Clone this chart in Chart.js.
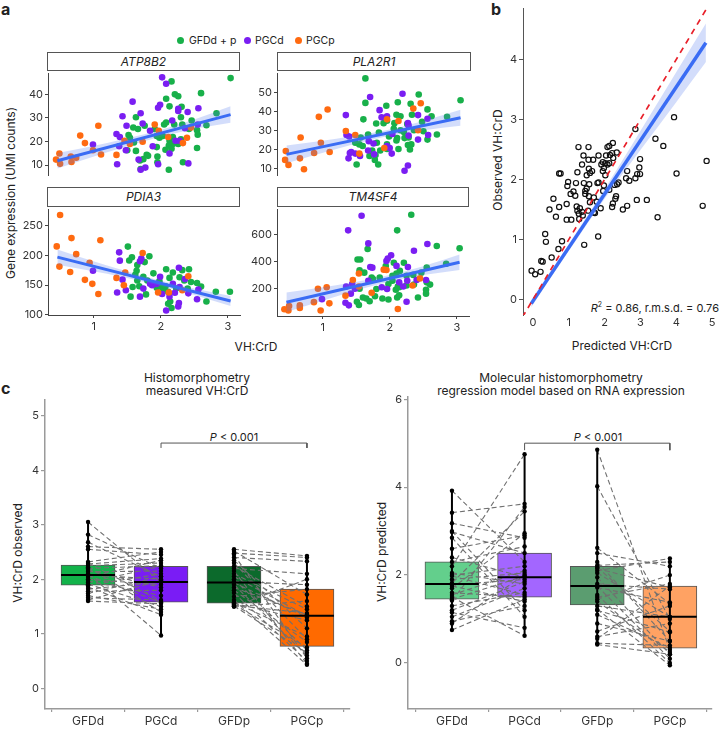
<!DOCTYPE html>
<html><head><meta charset="utf-8">
<script src="https://cdn.jsdelivr.net/npm/chart.js@4.4.1/dist/chart.umd.min.js"></script>
<style>
body{margin:0;background:#fff;}
#root{position:relative;width:720px;height:730px;overflow:hidden;font-family:Inter,'Open Sans','DejaVu Sans',sans-serif;color:#222;}
.t{position:absolute;white-space:nowrap;}
.ctr{transform:translate(-50%,-50%);}
.strip{position:absolute;box-sizing:border-box;border:1px solid #555;background:#fff;text-align:center;font-style:italic;font-size:12px;color:#222;}
.rot{position:absolute;white-space:nowrap;transform:translate(-50%,-50%) rotate(-90deg);font-size:12px;}
.dot{position:absolute;width:7px;height:7px;border-radius:50%;}
canvas{position:absolute;}
</style></head>
<body><div id="root">
<div class="t" style="left:1px;top:-1px;font-weight:700;font-size:16px">a</div>
<div class="t" style="left:491px;top:-1px;font-weight:700;font-size:16px">b</div>
<div class="t" style="left:1px;top:378px;font-weight:700;font-size:16px">c</div>

<span class="dot" style="left:177px;top:36.5px;background:#18b04a"></span>
<div class="t" style="left:189px;top:33.5px;font-size:10.5px">GFDd + p</div>
<span class="dot" style="left:243.5px;top:36.5px;background:#7a1ef2"></span>
<div class="t" style="left:255px;top:33.5px;font-size:10.5px">PGCd</div>
<span class="dot" style="left:294.5px;top:36.5px;background:#ff6a10"></span>
<div class="t" style="left:306px;top:33.5px;font-size:10.5px">PGCp</div>

<div class="strip" style="left:47px;top:52px;width:193px;height:19px;line-height:17px">ATP8B2</div>
<div class="strip" style="left:277px;top:52px;width:194px;height:19px;line-height:17px">PLA2R1</div>
<div class="strip" style="left:47px;top:187px;width:193px;height:20px;line-height:18px">PDIA3</div>
<div class="strip" style="left:277px;top:187px;width:192px;height:20px;line-height:18px">TM4SF4</div>

<div class="rot" style="left:10px;top:193px">Gene expression (UMI counts)</div>
<div class="t ctr" style="left:256px;top:346px;font-size:12px">VH:CrD</div>

<div class="rot" style="left:497px;top:160px">Observed VH:CrD</div>
<div class="t ctr" style="left:622px;top:345px;font-size:12px">Predicted VH:CrD</div>
<div class="t" style="right:1px;top:300px;font-size:11px"><i>R</i><span style="font-size:7px;vertical-align:5px">2</span> = 0.86, r.m.s.d. = 0.76</div>

<div class="t ctr" style="left:197px;top:384px;font-size:12px;line-height:13px;text-align:center">Histomorphometry<br>measured VH:CrD</div>
<div class="t ctr" style="left:561px;top:384px;font-size:12px;line-height:13px;text-align:center">Molecular histomorphometry<br>regression model based on RNA expression</div>
<div class="rot" style="left:17px;top:553px">VH:CrD observed</div>
<div class="rot" style="left:381px;top:552px">VH:CrD predicted</div>
<div class="t ctr" style="left:234px;top:437px;font-size:11px"><i>P</i> &lt; 0.001</div>
<div class="t ctr" style="left:598px;top:437px;font-size:11px"><i>P</i> &lt; 0.001</div>
</div>
<script>
// ---------------- DATA ----------------
const GROUP_LABELS = ['GFDd', 'PGCd', 'GFDp', 'PGCp'];

// Panel a: ATP8B2
const ATP8B2_GFD = [[3.04,46.9],[2.16,45.5],[2.60,40.5],[2.21,40.0],[2.26,39.2],[2.08,38.1],[2.13,34.9],[2.31,34.7],[2.83,32.0],[1.63,30.3],[2.30,30.3],[2.46,28.9],[2.68,26.9],[2.20,27.2],[2.05,27.2],[2.08,28.0],[1.59,25.9],[1.66,25.3],[1.76,26.7],[1.91,25.3],[2.54,24.8],[2.42,25.3],[2.55,22.9],[1.52,22.7],[1.54,21.6],[1.94,22.3],[1.98,21.6],[2.03,22.3],[2.18,21.9],[2.30,20.9],[1.60,19.6],[2.13,20.3],[2.26,18.9],[2.12,18.3],[1.94,17.6],[2.07,16.5],[1.50,16.3],[1.63,16.0],[2.16,16.9],[2.54,17.2],[1.79,14.3],[1.81,13.9],[1.74,12.5],[1.95,13.6],[1.95,11.2],[1.69,11.9],[2.33,11.2],[1.70,8.3],[2.12,8.0],[2.32,27.2],[2.18,18.9]];
const ATP8B2_PGCd = [[2.02,47.2],[2.08,44.5],[1.58,36.9],[1.99,35.6],[1.96,34.3],[2.26,33.9],[2.26,32.9],[2.56,34.1],[2.40,32.5],[2.17,28.9],[1.43,30.7],[1.70,32.0],[1.49,26.7],[1.73,27.6],[1.34,23.2],[1.39,21.9],[1.84,24.5],[0.99,18.7],[1.38,18.0],[1.48,16.3],[1.88,18.0],[2.13,14.9],[2.22,20.3],[2.28,20.3],[1.67,12.3],[1.35,10.3],[1.70,8.0],[1.77,8.9],[1.96,10.3],[2.41,10.7],[2.55,27.2],[2.36,25.6]];
const ATP8B2_PGCp = [[0.44,12.3],[0.49,14.9],[0.50,10.5],[0.67,11.3],[0.74,13.1],[0.66,13.6],[0.80,22.5],[0.87,19.3],[0.99,16.3],[1.07,26.7],[1.11,14.5],[1.34,14.3],[1.46,20.3],[1.54,18.9],[1.73,19.9],[1.91,27.2],[1.97,24.5],[2.11,21.9],[2.33,19.3],[2.39,21.6],[2.45,25.9]];
const ATP8B2_FIT = [[0.46,11.8],[3.04,31.4]];
const ATP8B2_BAND = [[0.46,8.5,15.1],[1.2,15.4,19.4],[1.9,21.3,24.1],[2.5,25.3,29.3],[3.04,27.9,34.9]];
const ATP8B2_TICKS = [10,20,30,40];

// Panel a: PLA2R1
const PLA2R1_GFD = [[1.63,57.3],[3.04,45.9],[2.42,48.9],[2.11,44.8],[2.30,44.0],[1.63,44.5],[1.94,43.0],[2.55,41.1],[1.60,35.9],[2.09,38.3],[2.15,37.5],[2.32,38.3],[2.61,37.5],[2.84,37.2],[1.95,35.2],[2.06,33.9],[1.79,33.7],[1.90,33.9],[2.25,33.4],[2.47,34.6],[1.67,28.0],[1.83,29.0],[2.05,31.0],[2.15,30.2],[2.20,29.3],[2.35,30.2],[2.49,29.7],[2.69,28.0],[1.98,26.9],[2.10,26.1],[2.21,26.1],[2.27,26.4],[1.56,26.4],[1.48,23.7],[1.54,22.8],[1.59,22.0],[1.80,23.7],[1.95,22.8],[2.09,24.8],[2.55,25.3],[2.26,22.5],[2.31,22.8],[1.73,19.6],[1.78,17.2],[1.85,19.6],[1.69,16.7],[1.95,20.4],[2.12,20.4],[2.29,20.1],[1.50,12.3],[1.82,12.3],[1.77,14.7]];
const PLA2R1_PGCd = [[2.18,49.3],[1.70,47.6],[1.84,40.7],[1.95,37.5],[1.34,38.1],[1.87,37.0],[2.41,38.1],[2.26,33.9],[2.55,36.2],[1.35,27.7],[1.39,26.9],[1.68,24.5],[1.75,23.3],[1.95,22.0],[1.99,20.9],[1.42,18.8],[1.48,18.0],[1.40,18.3],[1.55,16.7],[1.67,19.6],[1.76,17.6],[1.38,15.5],[2.02,18.0],[2.27,27.4],[2.41,25.3],[2.56,27.7],[2.21,9.0],[2.26,11.8],[2.03,28.2],[2.27,32.6]];
const PLA2R1_PGCp = [[0.45,19.3],[0.44,14.7],[0.49,12.1],[0.66,15.5],[0.67,26.4],[0.72,9.8],[0.87,18.3],[0.94,37.2],[0.97,23.7],[1.07,41.0],[1.10,18.8],[1.34,29.8],[1.48,27.7],[1.54,18.0],[1.91,20.9],[1.95,35.9],[2.12,35.0],[2.34,41.5],[2.45,44.3],[2.41,30.2]];
const PLA2R1_FIT = [[0.46,17.6],[3.04,36.7]];
const PLA2R1_BAND = [[0.46,13.0,22.2],[1.2,20.4,25.8],[1.9,26.7,29.9],[2.5,30.2,35.2],[3.04,32.5,40.9]];
const PLA2R1_TICKS = [10,20,30,40,50];

// Panel a: PDIA3
const PDIA3_GFD = [[1.51,214.7],[1.57,196.7],[1.53,191.3],[1.65,183.7],[1.83,198.4],[1.76,188.6],[1.62,167.4],[1.64,174],[1.58,146.7],[1.55,130.4],[1.65,157.6],[1.68,148],[1.74,164],[1.78,134.2],[1.80,157.6],[1.89,169.6],[1.94,145.6],[1.98,156.5],[2.01,148],[2.03,142.4],[2.08,176.6],[2.13,162],[2.18,171],[2.07,148],[2.11,138.6],[2.14,122.3],[2.16,111.4],[2.11,118.5],[2.23,144],[2.28,163],[2.32,175],[2.35,157.6],[2.40,144],[2.45,155],[2.54,153.3],[2.42,176.6],[2.68,122.3],[2.82,138.6],[3.03,138.6],[2.60,147.3]];
const PDIA3_PGCd = [[1.38,205],[1.39,191],[1.35,137.5],[1.48,141.3],[1.43,159],[0.99,174],[1.69,190],[1.71,194.5],[1.74,144],[1.69,130.4],[1.84,152],[1.87,149.5],[1.99,164],[2.02,134.8],[2.08,107],[2.13,130.4],[2.18,152],[2.27,179],[2.27,119.5],[2.26,114],[2.21,137],[2.36,160],[2.41,136],[2.56,142.4],[2.54,126],[1.94,152],[2.28,146.7]];
const PDIA3_PGCp = [[0.50,268],[0.45,215],[0.49,181],[0.67,229],[0.65,172],[0.74,202],[0.94,187.5],[0.87,158.7],[0.98,152],[1.10,225.5],[1.07,134.8],[1.34,162],[1.47,171],[1.45,149.5],[1.73,204],[1.96,137.5],[2.12,137.5],[2.41,164.7],[2.32,141.3]];
const PDIA3_FIT = [[0.46,197],[3.04,123]];
const PDIA3_BAND = [[0.46,184,210],[1.2,168.8,182.8],[1.9,151.2,160.2],[2.5,133,144],[3.04,114.5,131.5]];
const PDIA3_TICKS = [100,150,200,250];

// Panel a: TM4SF4
const TM4SF4_GFD = [[2.32,750],[2.11,634],[1.67,496],[2.70,518],[3.04,501],[1.52,417],[1.56,417],[2.06,393],[2.21,393],[2.84,386],[1.94,369],[2.55,357],[1.55,337],[1.62,320],[1.73,284],[1.75,272],[1.85,284],[2.04,296],[2.10,313],[2.15,333],[2.25,296],[2.35,303],[2.47,320],[1.55,200],[1.80,198],[2.04,260],[2.09,193],[2.14,212],[2.25,224],[2.36,231],[2.55,248],[2.60,231],[2.54,193],[2.54,164],[1.51,104],[1.54,80],[1.60,135],[1.65,128],[1.70,108],[1.78,145],[1.89,128],[1.98,120],[2.11,135],[2.14,152],[2.42,135],[2.12,217],[1.98,236]];
const TM4SF4_PGCd = [[1.58,742],[1.38,634],[1.68,537],[2.56,533],[2.36,483],[2.02,449],[1.97,425],[1.95,406],[1.71,362],[1.74,357],[2.10,370],[2.27,362],[1.35,217],[1.44,236],[1.48,200],[1.68,260],[1.88,212],[1.96,198],[2.14,248],[2.20,217],[2.26,260],[2.40,265],[2.54,265],[1.34,96],[1.39,77],[1.42,164],[0.99,123],[2.25,104]];
const TM4SF4_PGCp = [[0.43,48],[0.50,72],[0.49,39],[0.66,77],[0.66,58],[0.87,101],[0.93,200],[0.97,39],[1.06,212],[1.10,92],[1.34,149],[1.45,265],[1.54,313],[1.54,217],[1.73,171],[1.91,342],[1.95,340],[2.12,50],[2.34,224],[2.45,277]];
const TM4SF4_FIT = [[0.46,100],[3.04,397]];
const TM4SF4_BAND = [[0.46,28,172],[1.2,143,227],[1.9,241,291],[2.5,302,368],[3.04,340,454]];
const TM4SF4_TICKS = [200,400,600];
const VH_TICKS = [1,2,3];

// Panel b
const B_POINTS = [[3.94,3.04],[3.42,2.68],[3.64,2.56],[2.86,2.84],[4.85,2.31],[4.01,2.10],[4.74,1.56],[3.48,1.37],[3.18,1.66],[2.90,1.66],[2.99,2.34],[2.97,2.20],[2.99,2.09],[2.91,2.09],[2.86,2.02],[2.63,2.14],[2.60,2.02],[2.69,1.98],[2.39,1.95],[2.35,1.92],[2.28,1.91],[2.32,1.72],[2.30,1.68],[2.63,1.56],[2.51,1.50],[2.23,1.60],[2.21,1.54],[1.89,1.52],[1.73,1.44],[2.13,1.83],[1.98,1.90],[2.23,2.61],[2.13,2.56],[2.08,2.54],[2.21,2.44],[2.34,2.45],[2.04,2.40],[2.15,2.41],[2.24,2.36],[1.83,2.40],[1.55,2.54],[1.27,2.54],[1.41,2.40],[1.55,2.33],[1.68,2.33],[1.37,2.25],[1.56,2.18],[1.65,2.14],[1.59,2.11],[1.50,2.07],[1.95,2.29],[2.02,2.27],[2.08,2.25],[1.91,2.25],[1.98,2.19],[2.13,2.27],[1.95,2.14],[2.02,2.07],[1.24,2.12],[0.73,2.10],[0.77,2.10],[0.98,1.96],[1.20,1.94],[1.42,1.94],[1.57,1.92],[1.80,1.94],[1.83,1.95],[0.96,1.89],[1.13,1.80],[1.05,1.76],[1.18,1.73],[1.46,1.81],[1.50,1.85],[1.46,1.76],[1.56,1.72],[1.70,1.70],[1.96,1.81],[1.59,1.62],[1.78,1.63],[0.57,1.68],[0.94,1.59],[0.73,1.54],[0.46,1.50],[1.22,1.55],[1.31,1.52],[1.24,1.48],[1.37,1.46],[1.28,1.43],[1.39,1.40],[1.54,1.48],[1.70,1.45],[0.64,1.38],[0.94,1.33],[1.07,1.33],[1.29,1.34],[0.34,1.09],[0.36,0.96],[0.81,0.97],[1.43,0.91],[1.82,1.05],[0.71,0.84],[0.52,0.70],[0.23,0.64],[0.27,0.63],[-0.04,0.48],[0.06,0.42],[0.21,0.46]];
const B_FIT = [[-0.05,-0.07],[4.83,4.28]];
const B_BAND = [[-0.05,-0.13,-0.01],[1,0.81,0.92],[2,1.68,1.84],[3,2.49,2.81],[4,3.29,3.79],[4.83,3.96,4.60]];
const B_IDENTITY = [[-0.3,-0.3],[4.9,4.9]];
const B_XTICKS = [0,1,2,3,4,5];
const B_YTICKS = [0,1,2,3,4];

// Panel c: observed (histomorphometry)
const OBS_GFDd = [3.05,2.82,2.68,2.6,2.55,2.32,2.3,2.28,2.25,2.22,2.2,2.17,2.14,2.1,2.08,2.07,2.04,2.0,1.97,1.94,1.91,1.89,1.86,1.82,1.78,1.74,1.7,1.66,1.62,1.6];
const OBS_PGCd = [1.95,2.2,2.05,2.55,2.45,2.5,1.6,2.38,2.3,1.4,2.25,1.85,2.15,0.97,2.0,1.58,2.35,1.9,1.7,2.24,1.5,2.1,1.35,1.95,1.8,2.05,1.45,1.62,1.98,1.55];
const OBS_GFDp = [2.55,2.52,2.48,2.45,2.4,2.35,2.3,2.24,2.2,2.15,2.1,2.05,2.0,1.96,1.94,1.9,1.85,1.8,1.75,1.68,1.62,1.58,1.56,1.54,1.52,1.51,1.5,1.5];
const OBS_PGCp = [2.43,1.72,2.4,0.55,2.33,1.1,0.9,1.5,2.1,0.45,1.45,1.33,0.7,1.9,1.3,0.6,1.35,0.85,0.5,1.82,0.43,0.95,1.25,0.75,1.38,0.65,2.0,1.6];
const OBS_Q1 = [1.89,1.58,1.56,0.77];
const OBS_MED = [2.08,1.95,1.94,1.33];
const OBS_Q3 = [2.26,2.24,2.24,1.82];
const OBS_BRACKET = [4.50,4.41];
const OBS_TICKS = [0,1,2,3,4,5];

// Panel c: predicted (molecular)
const PRED_GFDd = [3.92,3.42,3.18,3.0,2.98,2.85,2.6,2.4,2.3,2.2,2.05,2.0,1.98,1.9,1.82,1.78,1.75,1.7,1.6,1.55,1.5,1.45,1.42,1.3,1.2,1.15,1.05,0.95,0.9,0.75];
const PRED_PGCd = [2.3,3.62,2.85,1.2,2.5,1.05,2.9,1.95,2.65,4.75,1.8,2.2,1.55,2.05,3.45,1.9,1.4,2.95,1.5,2.1,0.62,1.98,3.55,1.6,1.85,0.8,1.7,1.3,2.0,1.45];
const PRED_GFDp = [4.85,4.02,2.62,2.5,2.3,2.22,2.18,2.15,2.1,2.05,1.95,1.8,1.75,1.72,1.55,1.5,1.45,1.4,1.3,1.22,1.2,1.1,0.9,0.72,0.6,0.55,0.45,0.42];
const PRED_PGCp = [0.3,1.0,1.35,2.2,0.5,2.3,0.72,1.72,2.38,1.05,0.2,1.68,0.1,1.38,0.0,1.8,2.0,0.25,1.05,-0.05,0.7,0.35,0.5,1.3,0.9,1.75,0.4,0.2];
const PRED_Q1 = [1.45,1.5,1.32,0.34];
const PRED_MED = [1.8,1.95,1.75,1.05];
const PRED_Q3 = [2.3,2.5,2.2,1.75];
const PRED_BRACKET = [5.0,4.84];
const PRED_TICKS = [0,2,4,6];

// ---------------- STYLE ----------------
const COL = {green:'#18b04a', purple:'#7a1ef2', orange:'#ff6a10', fit:'#3a6cf4', band:'rgba(80,120,240,0.25)', red:'#e8202a'};
const BOX_OBS = ['#12b34a','#7a1cf5','#0c6a2c','#ff6a00'];
const BOX_PRED = ['#63cf8c','#a366ff','#5b9d70','#ffa263'];

Chart.defaults.font.family = "Inter, 'Open Sans', 'DejaVu Sans', sans-serif";
Chart.defaults.font.size = 11;
Chart.defaults.color = '#333';

const root = document.getElementById('root');
function mkCanvas(area, pad){
  const c = document.createElement('canvas');
  const w = area[2]-area[0]+pad[0]+pad[2], h = area[3]-area[1]+pad[1]+pad[3];
  c.width = w; c.height = h;
  c.style.left = (area[0]-pad[0])+'px'; c.style.top = (area[1]-pad[1])+'px';
  c.style.width = w+'px'; c.style.height = h+'px';
  root.appendChild(c); return c;
}
const fixedTicks = arr => s => { s.ticks = arr.map(v => ({value:v})); };
function axisY(min,max,ticks,w,st){
  return {type:'linear', position:'left', min, max, afterBuildTicks: fixedTicks(ticks), afterFit: s => { s.width = w; },
    grid:{drawOnChartArea:false, drawTicks:true, tickLength:st.tl, color:st.c, lineWidth:st.lw||1},
    border:{display:true, color:st.c, width:st.bw},
    ticks:{padding:2, font:{size:st.fs}, color:'#333'}};
}
function axisX(min,max,ticks,h,st,labels){
  return {type:'linear', position:'bottom', min, max, offset:false, afterBuildTicks: fixedTicks(ticks), afterFit: s => { s.height = h; },
    grid:{drawOnChartArea:false, drawTicks: st.tl>0, tickLength: st.tl||0, color:st.c, lineWidth:st.lw||1},
    border:{display: st.border!==false, color:st.c, width:st.bw},
    ticks:{padding: st.pad, maxRotation:0, autoSkip:false, font:{size:st.fs}, color:'#333', callback: labels ? (v => labels[v]) : (v => v)}};
}
function make(area, pad, datasets, scales){
  const hiddenX = scales.x.display === false;
  return new Chart(mkCanvas(area,pad), {type:'scatter', data:{datasets},
    options:{responsive:false, animation:false, devicePixelRatio:1,
      layout:{autoPadding:false, padding:{left:0, top:pad[1], right:pad[2], bottom: hiddenX ? pad[3] : 0}},
      scales, plugins:{legend:{display:false}, tooltip:{enabled:false}}}});
}
const xy = arr => arr.map(p => ({x:p[0], y:p[1]}));
const pts = (arr, col, r, order) => ({type:'scatter', data: xy(arr), backgroundColor: col, borderColor: col, borderWidth:0, pointRadius:r, order});
const seg = (arr, col, w, order, dash) => ({type:'line', data: xy(arr), borderColor: col, borderWidth:w, borderDash: dash||[], pointRadius:0, fill:false, order});
const bandDS = (band, order) => [
  {type:'line', data: band.map(b => ({x:b[0], y:b[1]})), borderWidth:0, pointRadius:0, fill:false, cubicInterpolationMode:'monotone', order},
  {type:'line', data: band.map(b => ({x:b[0], y:b[2]})), borderWidth:0, pointRadius:0, fill:'-1', backgroundColor: COL.band, cubicInterpolationMode:'monotone', order}
];

// ---------------- PANEL a ----------------
const styA = {tl:3, c:'#444', bw:1, fs:11, pad:2};
const VH_MIN = 0.32, VH_MAX = 3.18;
function facet(area, gfd, pgcd, pgcp, fit, band, ymin, ymax, yt, showX){
  const ds = [pts(pgcp, COL.orange, 3.3, 6), pts(pgcd, COL.purple, 3.3, 6), pts(gfd, COL.green, 3.3, 6), ...bandDS(band, 3), seg(fit, COL.fit, 3, 1)];
  const scales = {y: axisY(ymin, ymax, yt, 30, styA),
    x: showX ? axisX(VH_MIN, VH_MAX, VH_TICKS, 20, styA) : {type:'linear', min:VH_MIN, max:VH_MAX, display:false}};
  make(area, [30, 6, 5, showX ? 20 : 4], ds, scales);
}
facet([48,71,240,180], ATP8B2_GFD, ATP8B2_PGCd, ATP8B2_PGCp, ATP8B2_FIT, ATP8B2_BAND, 5.6, 48.8, ATP8B2_TICKS, false);
facet([277,71,470,180], PLA2R1_GFD, PLA2R1_PGCd, PLA2R1_PGCp, PLA2R1_FIT, PLA2R1_BAND, 6.6, 59.8, PLA2R1_TICKS, false);
facet([48,207,240,315], PDIA3_GFD, PDIA3_PGCd, PDIA3_PGCp, PDIA3_FIT, PDIA3_BAND, 99.5, 277, PDIA3_TICKS, true);
facet([277,207,469,316], TM4SF4_GFD, TM4SF4_PGCd, TM4SF4_PGCp, TM4SF4_FIT, TM4SF4_BAND, -2, 788, TM4SF4_TICKS, true);

// ---------------- PANEL b ----------------
make([523,3,717,315], [33,3,3,22], [
  {type:'scatter', data: xy(B_POINTS), backgroundColor:'rgba(0,0,0,0)', borderColor:'#111', borderWidth:1.2, pointRadius:2.6, order:6},
  ...bandDS(B_BAND, 3),
  seg(B_FIT, COL.fit, 3.5, 2),
  seg(B_IDENTITY, COL.red, 1.7, 1, [6,5])
], {
  y: axisY(-0.26, 4.85, B_YTICKS, 33, {tl:4, c:'#555', bw:1, fs:11}),
  x: axisX(-0.28, 5.14, B_XTICKS, 22, {tl:0, c:'#555', bw:1, fs:11, pad:1, border:false})
});

// ---------------- PANEL c ----------------
function boxPanel(area, groups, q1, med, q3, colors, bracket, ymin, ymax, yt, xmin, xmax){
  const pairs = [];
  [[0,1],[2,3]].forEach(([a,b]) => groups[a].forEach((v,i) => { pairs.push({x:a,y:v},{x:b,y:groups[b][i]},{x:a+0.5,y:null}); }));
  const whisk = [], medians = [];
  groups.forEach((g,i) => {
    whisk.push({x:i,y:Math.min(...g)},{x:i,y:Math.max(...g)},{x:i+0.5,y:null});
    medians.push({x:i-0.37,y:med[i]},{x:i+0.37,y:med[i]},{x:i+0.5,y:null});
  });
  const dots = [];
  groups.forEach((g,i) => g.forEach(v => dots.push({x:i,y:v})));
  const ds = [
    {type:'bar', data: q1.map((v,i) => ({x:i, y:[v, q3[i]]})), backgroundColor: colors, borderColor:'#555', borderWidth:1, borderSkipped:false, barThickness:54, order:10},
    {type:'line', data: pairs, borderColor:'#707070', borderWidth:1.1, borderDash:[5,3], pointRadius:0, fill:false, spanGaps:false, order:6},
    {type:'line', data: whisk, borderColor:'#000', borderWidth:2, pointRadius:0, fill:false, spanGaps:false, order:4},
    {type:'scatter', data: dots, backgroundColor:'#000', borderWidth:0, pointRadius:2.2, order:3},
    {type:'line', data: medians, borderColor:'#000', borderWidth:2, pointRadius:0, fill:false, spanGaps:false, order:2},
    {type:'line', data: [{x:1,y:bracket[1]},{x:1,y:bracket[0]},{x:3,y:bracket[0]},{x:3,y:bracket[1]}], borderColor:'#555', borderWidth:1, pointRadius:0, fill:false, order:1}
  ];
  const st = {tl:4, c:'#9a9a9a', bw:1.5, lw:1.2, fs:11, pad:2};
  make(area, [45,10,8,21], ds, {
    y: axisY(ymin, ymax, yt, 45, st),
    x: axisX(xmin, xmax, [0,1,2,3], 21, {tl:3, c:'#9a9a9a', bw:1.5, lw:1.2, fs:12, pad:2}, GROUP_LABELS)
  });
}
boxPanel([45,400,350,709], [OBS_GFDd, OBS_PGCd, OBS_GFDp, OBS_PGCp], OBS_Q1, OBS_MED, OBS_Q3, BOX_OBS, OBS_BRACKET, -0.38, 5.29, OBS_TICKS, -0.59, 3.59);
boxPanel([408,397,712,709], [PRED_GFDd, PRED_PGCd, PRED_GFDp, PRED_PGCp], PRED_Q1, PRED_MED, PRED_Q3, BOX_PRED, PRED_BRACKET, -1.045, 6.05, PRED_TICKS, -0.605, 3.58);
</script>
</body></html>
